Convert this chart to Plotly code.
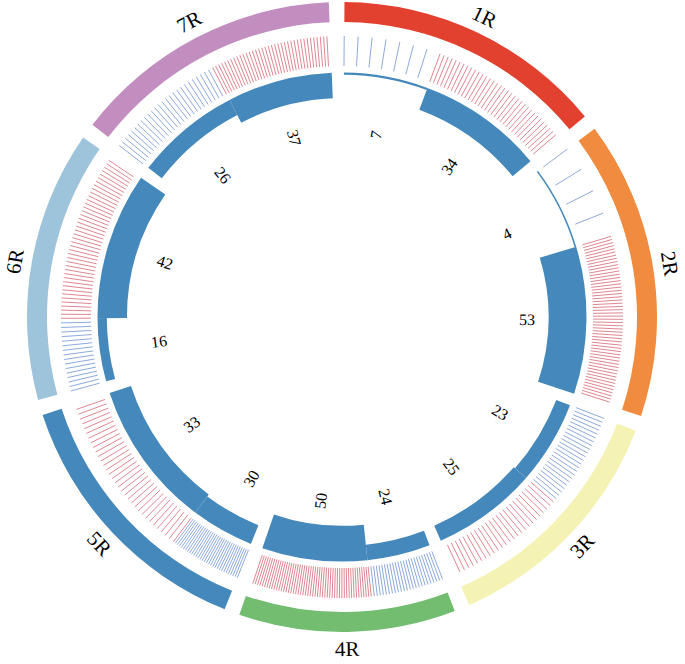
import math
import plotly.graph_objects as go

# ---------------- data ----------------
sectors = ["1R", "2R", "3R", "4R", "5R", "6R", "7R"]
sector_colors = ["#e3412f", "#f08b3f", "#f5f3b4", "#72bd6f", "#4589bc", "#9dc4db", "#c28ec0"]
blue_counts = [7, 4, 23, 24, 30, 16, 26]
red_counts = [34, 53, 25, 50, 33, 42, 37]
blue_length = [20, 20, 20, 15, 15, 15, 25]
red_length = [30, 35, 25, 25, 35, 35, 25]

# ---------------- style / geometry ----------------
W, H = 685, 664
R_PX = 316                      # polar radius in px (radial unit = 1 px)
M_L, M_T = 26, 1
BAND_IN, BAND_OUT = 295, 315
TICK_IN, TICK_OUT = 251, 281
BAR_OUT = 244.5
BAR_H = 38
BAR_MIN = 1.6
LABEL_R = 332
COUNT_R = 185
START = 0.45
BAR_COLOR = "#4589bc"
BLUE_TICK = "#7f9fd6"
RED_TICK = "#dc7883"
FONT = "Liberation Serif, Times New Roman, serif"

GAP = (360 - sum(blue_length) - sum(red_length)) / len(sectors)

# layout of sectors and sub-segments
sec_mid, sec_w = [], []
seg_mid, seg_w, seg_val, seg_start, seg_kind = [], [], [], [], []
pos = START
for i in range(len(sectors)):
    bl, rl = blue_length[i], red_length[i]
    sec_mid.append(pos + (bl + rl) / 2)
    sec_w.append(bl + rl)
    for kind, ln, cnt, st in (("b", bl, blue_counts[i], pos), ("r", rl, red_counts[i], pos + bl)):
        seg_start.append(st)
        seg_mid.append(st + ln / 2)
        seg_w.append(ln)
        seg_val.append(cnt)
        seg_kind.append(kind)
    pos += bl + rl + GAP

vmin, vmax = min(seg_val), max(seg_val)
bar_h = [max(BAR_MIN, (v - vmin) / (vmax - vmin) * BAR_H) for v in seg_val]

fig = go.Figure()

# outer sector band
fig.add_trace(go.Barpolar(
    theta=sec_mid, width=sec_w, r=[BAND_OUT - BAND_IN] * len(sectors),
    base=[BAND_IN] * len(sectors), marker=dict(color=sector_colors, line=dict(width=0)),
    hoverinfo="skip"))

# tick ring
for kind, col in (("b", BLUE_TICK), ("r", RED_TICK)):
    th, rr = [], []
    for st, ln, cnt, k in zip(seg_start, seg_w, seg_val, seg_kind):
        if k != kind:
            continue
        for j in range(cnt):
            a = st + j * ln / cnt
            th += [a, a, None]
            rr += [TICK_IN, TICK_OUT, None]
    fig.add_trace(go.Scatterpolar(theta=th, r=rr, mode="lines",
                                  line=dict(color=col, width=0.9), hoverinfo="skip"))

# inner bars
fig.add_trace(go.Barpolar(
    theta=seg_mid, width=seg_w, r=bar_h, base=[BAR_OUT - h for h in bar_h],
    marker=dict(color=BAR_COLOR, line=dict(width=0)), hoverinfo="skip"))

# annotations
def paper(r, a):
    t = math.radians(a)
    return 0.5 + r * math.sin(t) / (2 * R_PX), 0.5 + r * math.cos(t) / (2 * R_PX)

ann = []
for name, a in zip(sectors, sec_mid):
    x, y = paper(LABEL_R, a)
    if a <= 90:
        ang = a
    elif a >= 270:
        ang = a - 360
    else:
        ang = a - 180
    ann.append(dict(x=x, y=y, xref="paper", yref="paper", text=name, showarrow=False,
                    textangle=ang, font=dict(family=FONT, size=21, color="black"),
                    xanchor="center", yanchor="middle", borderpad=0))
for v, a in zip(seg_val, seg_mid):
    x, y = paper(COUNT_R, a)
    ang = a - 90 if a < 180 else a - 270
    ann.append(dict(x=x, y=y, xref="paper", yref="paper", text=str(v), showarrow=False,
                    textangle=ang, font=dict(family=FONT, size=16, color="black"),
                    xanchor="center", yanchor="middle"))

fig.update_layout(
    width=W, height=H,
    margin=dict(l=M_L, r=W - M_L - 2 * R_PX, t=M_T, b=H - M_T - 2 * R_PX, pad=0),
    paper_bgcolor="white", plot_bgcolor="white", showlegend=False,
    polar=dict(
        domain=dict(x=[0, 1], y=[0, 1]),
        bgcolor="white", bargap=0,
        radialaxis=dict(range=[0, R_PX], visible=False, showgrid=False),
        angularaxis=dict(rotation=90, direction="clockwise", visible=False,
                         showgrid=False, thetaunit="degrees"),
    ),
    annotations=ann,
)

fig.write_html(
    "out.html",
    config={"displayModeBar": False},
    post_script="document.body.style.margin='0';document.body.style.padding='0';"
                "document.body.style.overflow='hidden';",
)
